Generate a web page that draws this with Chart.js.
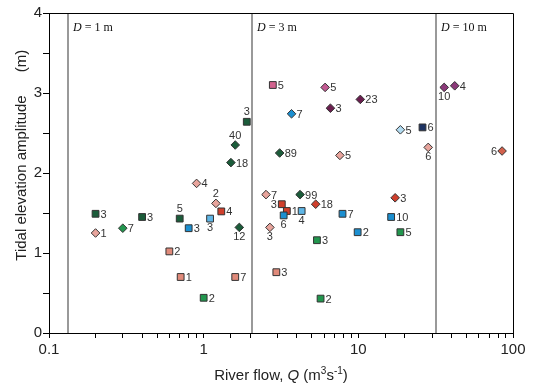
<!DOCTYPE html>
<html>
<head>
<meta charset="utf-8">
<script src="https://cdn.jsdelivr.net/npm/chart.js@4.4.0/dist/chart.umd.min.js"></script>
<style>
html, body { margin: 0; padding: 0; background: #fff; }
</style>
</head>
<body>
<canvas id="myChart" width="551" height="388"></canvas>
<script>
// river flow Q (m3/s) and tidal elevation amplitude (m) for each estuary group
const flow = [0.2, 0.2, 0.3, 0.4, 0.7, 0.8, 0.6, 0.71, 1.0, 0.9, 1.1, 1.2, 1.3, 1.7, 1.6, 1.9, 1.6, 1.5,
              2.8, 6.1, 10.3, 6.6, 3.7, 18.7, 26, 28.3, 3.1, 7.6, 2.53, 4.2, 17.3, 3.2, 3.45, 5.3, 3.29, 4.3,
              7.9, 16.3, 2.68, 9.9, 18.7, 5.4, 2.95, 5.7,
              35.9, 42, 85];
const amplitude = [1.25, 1.49, 1.31, 1.45, 1.43, 1.31, 1.02, 0.70, 0.44, 1.87, 1.43, 1.62, 1.52, 1.32, 0.70, 2.64, 2.35, 2.13,
                   3.10, 3.07, 2.92, 2.81, 2.74, 2.54, 2.57, 2.32, 2.25, 2.22, 1.73, 1.73, 1.69, 1.61, 1.525, 1.61, 1.47, 1.525,
                   1.49, 1.45, 1.32, 1.26, 1.26, 1.16, 0.76, 0.43,
                   3.07, 3.09, 2.275];
const counts = ['1', '3', '7', '3', '5', '3', '2', '1', '2', '4', '3', '2', '4', '12', '7', '3', '40', '18',
                '5', '5', '23', '3', '7', '5', '6', '6', '89', '5', '7', '99', '3', '3', '1', '18', '6', '4',
                '7', '10', '3', '2', '5', '3', '3', '2',
                '10', '4', '6'];
const depthLines = [0.133, 2.05, 32];
const depthLabels = ['1 m', '3 m', '10 m'];
const xTickLabels = [0.1, 1, 10, 100];
const yTickLabels = [0, 1, 2, 3, 4];

// marker look and label side for each point
const marker = ['ltpinkD', 'dkgreenS', 'greenD', 'dkgreenS', 'dkgreenS', 'blueS', 'salmonS', 'salmonS', 'greenS', 'ltpinkD', 'ltblueS', 'ltpinkD', 'redS', 'dkgreenD', 'salmonS', 'dkgreenS', 'dkgreenD', 'dkgreenD',
                'magentaS', 'pinkD', 'dkpurpleD', 'dkpurpleD', 'blueD', 'ltblueD', 'navyS', 'ltpinkD', 'dkgreenD', 'ltpinkD', 'ltpinkD', 'dkgreenD', 'redD', 'redS', 'redS', 'redD', 'blueS', 'ltblueS',
                'blueS', 'blueS', 'ltpinkD', 'blueS', 'greenS', 'greenS', 'salmonS', 'greenS',
                'purpleD', 'purpleD', 'red2D'];
const labelSide = ['r', 'r', 'r', 'r', 'a', 'r', 'r', 'r', 'r', 'r', 'b', 'a', 'r', 'b', 'r', 'a', 'a', 'r',
                   'r', 'r', 'r', 'r', 'r', 'r', 'r', 'b', 'r', 'r', 'r', 'r', 'r', 'l', 'r', 'r', 'b', 'b',
                   'r', 'r', 'b', 'r', 'r', 'r', 'r', 'r',
                   'b', 'r', 'l'];
const colors = {
    ltpink: '#e8a49c', dkgreen: '#1b5c3a', green: '#22964e', blue: '#1c8fd0', ltblue: '#5fb6e6',
    salmon: '#e08a7a', red: '#cf3f2c', red2: '#d2604c', magenta: '#d2628e', pink: '#c25a92',
    dkpurple: '#6a1e4e', purple: '#8c3a7a', navy: '#1c3262', ltblueD: '#b2dcf2'
};
function colorOf(k) {
    if (k === 'ltblueD') return colors.ltblueD;
    return colors[k.slice(0, -1)];
}

const FONT = 'Liberation Sans, Arial, sans-serif';

const overlay = {
    id: 'overlay',
    beforeDatasetsDraw(chart) {
        const { ctx, chartArea: a, scales: { x } } = chart;
        ctx.save();
        ctx.strokeStyle = '#999';
        ctx.lineWidth = 2;
        depthLines.forEach(function (v, i) {
            const px = Math.round(x.getPixelForValue(v));
            ctx.beginPath();
            ctx.moveTo(px, a.top);
            ctx.lineTo(px, a.bottom);
            ctx.stroke();
            // depth label
            ctx.fillStyle = '#111';
            ctx.textBaseline = 'alphabetic';
            ctx.textAlign = 'left';
            ctx.font = 'italic 12px Liberation Serif, serif';
            ctx.fillText('D', px + 5, 31);
            const w = ctx.measureText('D').width;
            ctx.font = '12px Liberation Serif, serif';
            ctx.fillText(' = ' + depthLabels[i], px + 5 + w, 31);
        });
        ctx.restore();
    },
    afterDatasetsDraw(chart) {
        const ctx = chart.ctx;
        const pts = chart.getDatasetMeta(0).data;
        ctx.save();
        ctx.font = '11px ' + FONT;
        ctx.fillStyle = '#333';
        pts.forEach(function (p, i) {
            const s = labelSide[i];
            if (s === 'r') { ctx.textAlign = 'left'; ctx.textBaseline = 'middle'; ctx.fillText(counts[i], p.x + 5, p.y + 1); }
            if (s === 'l') { ctx.textAlign = 'right'; ctx.textBaseline = 'middle'; ctx.fillText(counts[i], p.x - 5, p.y + 1); }
            if (s === 'a') { ctx.textAlign = 'center'; ctx.textBaseline = 'bottom'; ctx.fillText(counts[i], p.x, p.y - 4); }
            if (s === 'b') { ctx.textAlign = 'center'; ctx.textBaseline = 'top'; ctx.fillText(counts[i], p.x, p.y + 4); }
        });
        ctx.restore();
    },
    afterDraw(chart) {
        const { ctx, chartArea: a } = chart;
        ctx.save();
        // frame top and right
        ctx.strokeStyle = '#000';
        ctx.lineWidth = 1;
        ctx.beginPath();
        ctx.moveTo(a.left, a.top + 0.5);
        ctx.lineTo(a.right + 0.5, a.top + 0.5);
        ctx.lineTo(a.right + 0.5, a.bottom);
        ctx.stroke();

        // x title
        ctx.fillStyle = '#222';
        ctx.textBaseline = 'alphabetic';
        ctx.textAlign = 'left';
        const parts = [
            ['River flow, ', '15px ' + FONT, 0],
            ['Q', 'italic 15px ' + FONT, 0],
            [' (m', '15px ' + FONT, 0],
            ['3', '10px ' + FONT, -6],
            ['s', '15px ' + FONT, 0],
            ['-1', '10px ' + FONT, -6],
            [')', '15px ' + FONT, 0]
        ];
        let total = 0;
        parts.forEach(function (p) { ctx.font = p[1]; total += ctx.measureText(p[0]).width; });
        let cx = (a.left + a.right) / 2 - total / 2;
        parts.forEach(function (p) {
            ctx.font = p[1];
            ctx.fillText(p[0], cx, 380 + p[2]);
            cx += ctx.measureText(p[0]).width;
        });

        // y title
        ctx.font = '15px ' + FONT;
        ctx.textAlign = 'center';
        ctx.textBaseline = 'middle';
        ctx.save();
        ctx.translate(22, 178);
        ctx.rotate(-Math.PI / 2);
        ctx.fillText('Tidal elevation amplitude', 0, 0);
        ctx.restore();
        ctx.save();
        ctx.translate(22, 61);
        ctx.rotate(-Math.PI / 2);
        ctx.fillText('(m)', 0, 0);
        ctx.restore();
        ctx.restore();
    }
};

function isDecade(v) {
    const l = Math.log10(v);
    return Math.abs(l - Math.round(l)) < 1e-9;
}

let ctx = document.getElementById('myChart').getContext('2d');
let chart = new Chart(ctx, {
    type: 'scatter',
    data: {
        datasets: [{
            data: flow.map(function (q, i) { return { x: q, y: amplitude[i] }; }),
            pointStyle: marker.map(function (m) { return m.endsWith('S') ? 'rect' : 'rectRot'; }),
            pointRadius: marker.map(function (m) { return m.endsWith('S') ? 4.8 : 4.3; }),
            backgroundColor: marker.map(colorOf),
            borderColor: '#333',
            borderWidth: 1
        }]
    },
    options: {
        responsive: false,
        animation: false,
        layout: { padding: { left: 0, top: 13, right: 38, bottom: 0 } },
        plugins: { legend: { display: false }, tooltip: { enabled: false } },
        scales: {
            x: {
                type: 'logarithmic',
                min: 0.1,
                max: 100,
                afterFit: function (s) { s.height = 55; },
                border: { color: '#000', width: 1 },
                grid: { drawOnChartArea: false, drawTicks: true, tickLength: 5, color: '#000' },
                ticks: {
                    autoSkip: false,
                    maxRotation: 0,
                    padding: 3,
                    color: '#222',
                    font: { family: FONT, size: 15 },
                    callback: function (v) {
                        if (!isDecade(v)) return '';
                        const t = xTickLabels.find(function (d) { return Math.abs(d - v) < 1e-9 * d; });
                        return t === undefined ? '' : String(t);
                    }
                }
            },
            y: {
                min: 0,
                max: 4,
                afterFit: function (s) { s.width = 49; },
                border: { color: '#000', width: 1 },
                grid: { drawOnChartArea: false, drawTicks: true, tickLength: 6, color: '#000' },
                ticks: {
                    stepSize: 0.5,
                    padding: 1,
                    color: '#222',
                    font: { family: FONT, size: 15 },
                    callback: function (v) { return yTickLabels.includes(v) ? String(v) : ''; }
                }
            }
        }
    },
    plugins: [overlay]
});
</script>
</body>
</html>
